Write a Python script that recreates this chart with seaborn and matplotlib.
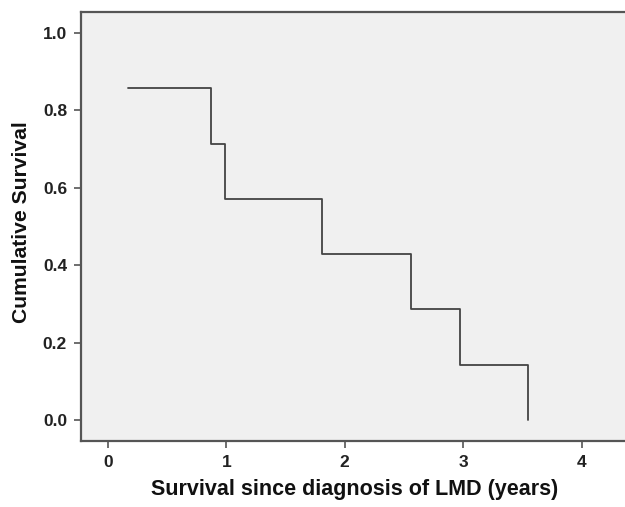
import matplotlib
matplotlib.use("Agg")
import matplotlib.pyplot as plt
import seaborn as sns
import pandas as pd

times = [0.166, 0.868, 0.985, 1.81, 2.56, 2.97, 3.55]
survival = [0.857, 0.714, 0.571, 0.429, 0.286, 0.143, 0.0]
x_ticks = [0, 1, 2, 3, 4]
y_ticks = [0.0, 0.2, 0.4, 0.6, 0.8, 1.0]

sns.set_style("white")
plt.rcParams['font.family'] = ['Liberation Sans', 'DejaVu Sans']

df = pd.DataFrame({"time": times, "surv": survival})

W, H = 625, 507
fig = plt.figure(figsize=(W / 100, H / 100), dpi=100)
ax_l, ax_b, ax_t = 81, 441, 12
ax = fig.add_axes([ax_l / W, (H - ax_b) / H, 1 - ax_l / W + 0.01, (ax_b - ax_t) / H])
ax.set_facecolor("#f0f0f0")

sns.lineplot(data=df, x="time", y="surv", drawstyle="steps-post",
             color="#444444", linewidth=1.3, ax=ax, sort=True)

ax.set_xlim(-0.227, 4.42)
ax.set_ylim(-0.054, 1.054)
ax.set_xticks(x_ticks)
ax.set_xticklabels([str(t) for t in x_ticks])
ax.set_yticks(y_ticks)
ax.set_yticklabels([f"{t:.1f}" for t in y_ticks])

for s in ["left", "bottom", "top"]:
    ax.spines[s].set_color("#555555")
    ax.spines[s].set_linewidth(1.6)
ax.spines["right"].set_visible(False)

ax.tick_params(axis="both", direction="out", length=5, width=1.2,
               color="#555555", labelsize=12.5, labelcolor="#222222", pad=5,
               bottom=True, left=True)
for lbl in ax.get_xticklabels() + ax.get_yticklabels():
    lbl.set_fontweight("bold")

ax.set_xlabel("Survival since diagnosis of LMD (years)", fontsize=15.5,
              fontweight="bold", color="#111111", va="center")
ax.set_ylabel("Cumulative Survival", fontsize=15.2, fontweight="bold",
              color="#111111", va="center")
ax_w_px = W - ax_l
ax_h_px = ax_b - ax_t
ax.xaxis.set_label_coords(0.0 + (355 - ax_l) / (ax.get_position().width * W), (ax_b - 489) / ax_h_px)
ax.yaxis.set_label_coords((22 - ax_l) / (ax.get_position().width * W), (ax_b - 222) / ax_h_px)

fig.savefig("out.png", dpi=100)
